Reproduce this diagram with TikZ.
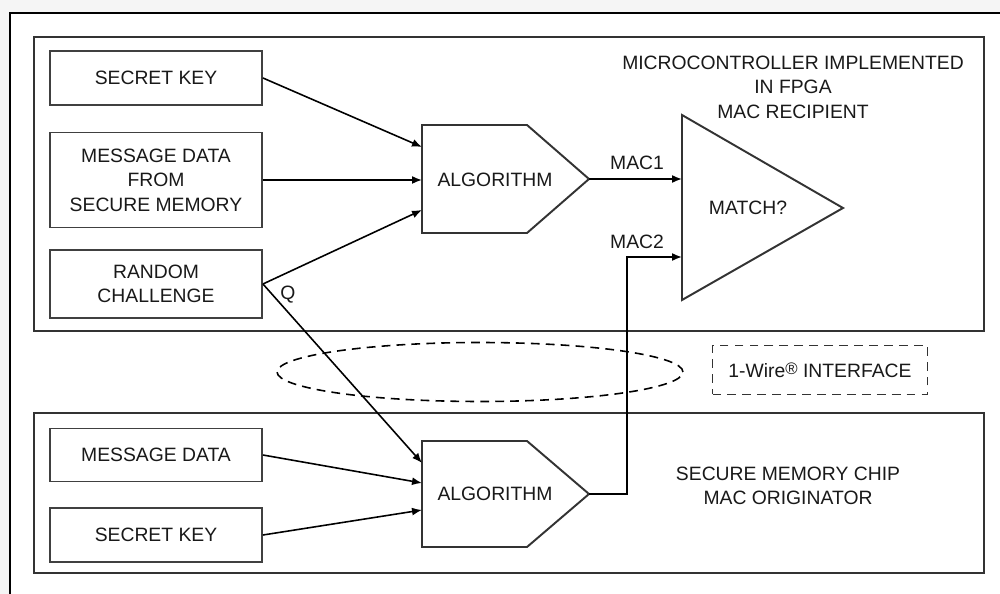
\documentclass[tikz,border=0pt]{standalone}
\usepackage{fontspec}
\setmainfont{Liberation Sans}
\usetikzlibrary{arrows.meta,positioning}

\begin{document}
\begin{tikzpicture}[x=0.02cm, y=-0.02cm, font=\fontsize{11}{14}\selectfont, text=black!90,
block/.style={draw=black!75, line width=1.1pt, minimum width=4.24cm, align=center, inner sep=0pt},
frame/.style={draw=black!80, line width=1.1pt},
arr/.style={-{Latex[length=2mm, width=1.6mm]}, line width=0.9pt},
label/.style={align=center, inner sep=0pt}]
\clip (0,0) rectangle (1000,594);
\fill[black!4] (0,0) rectangle (1000,594);
\draw[fill=white, line width=1.1pt] (10,13) rectangle (1020,620);
\draw[frame] (34,37) rectangle (984,331);
\draw[frame] (34,413) rectangle (984,573);
\node[block, minimum height=1.08cm] (key1) at (156,78) {SECRET KEY};
\node[block, minimum height=1.9cm] (msg1) at (156,180) {MESSAGE DATA\\FROM\\SECURE MEMORY};
\node[block, minimum height=1.36cm] (chal) at (156,284) {RANDOM\\CHALLENGE};
\node[block, minimum height=1.06cm] (msg2) at (156,455) {MESSAGE DATA};
\node[block, minimum height=1.08cm] (key2) at (156,535) {SECRET KEY};
\draw[frame] (422,125) -- (527,125) -- (589,179) coordinate (alg1tip) -- (527,233) -- (422,233) -- cycle;
\node[label] (alg1) at (495,180) {ALGORITHM};
\draw[frame] (422,441) -- (527,441) -- (589,494) coordinate (alg2tip) -- (527,547) -- (422,547) -- cycle;
\node[label] (alg2) at (495,494) {ALGORITHM};
\draw[frame] (682,115) -- (843,208) -- (682,300) -- cycle;
\node[label] (match) at (748,208) {MATCH?};
\coordinate (alg1in1) at (422,147);
\coordinate (alg1in2) at (422,180);
\coordinate (alg1in3) at (422,210);
\coordinate (alg2in1) at (422,463);
\coordinate (alg2in2) at (422,483);
\coordinate (alg2in3) at (422,510);
\coordinate (mac1in) at (682,179);
\coordinate (mac2in) at (682,257);
\coordinate (bend) at (627,494);
\draw[arr] (key1.east) -- (alg1in1);
\draw[arr] (msg1.east) -- (alg1in2);
\draw[arr] (chal.east) -- (alg1in3);
\draw[arr] (chal.east) -- (alg2in1);
\draw[arr] (msg2.east) -- (alg2in2);
\draw[arr] (key2.east) -- (alg2in3);
\draw[arr] (alg1tip) -- (mac1in);
\draw[arr] (alg2tip) -- (bend) |- (mac2in);
\node[label] (q) at (288,295) {Q};
\node[label] (mac1) at (637,163) {MAC1};
\node[label] (mac2) at (637,242) {MAC2};
\draw[line width=0.9pt, dash pattern=on 5pt off 3.5pt] (480,372) ellipse [x radius=4.06cm, y radius=0.59cm];
\node[draw=black!80, line width=0.9pt, dash pattern=on 5pt off 3.5pt, minimum width=4.3cm, minimum height=0.98cm] (iface) at (820,370) {1-Wire\raisebox{.3ex}{\fontsize{9.5}{9.5}\selectfont ®} INTERFACE};
\node[label] (mcu) at (793,87) {MICROCONTROLLER IMPLEMENTED\\IN FPGA\\MAC RECIPIENT};
\node[label] (chip) at (788,486) {SECURE MEMORY CHIP\\MAC ORIGINATOR};
\end{tikzpicture}
\end{document}
